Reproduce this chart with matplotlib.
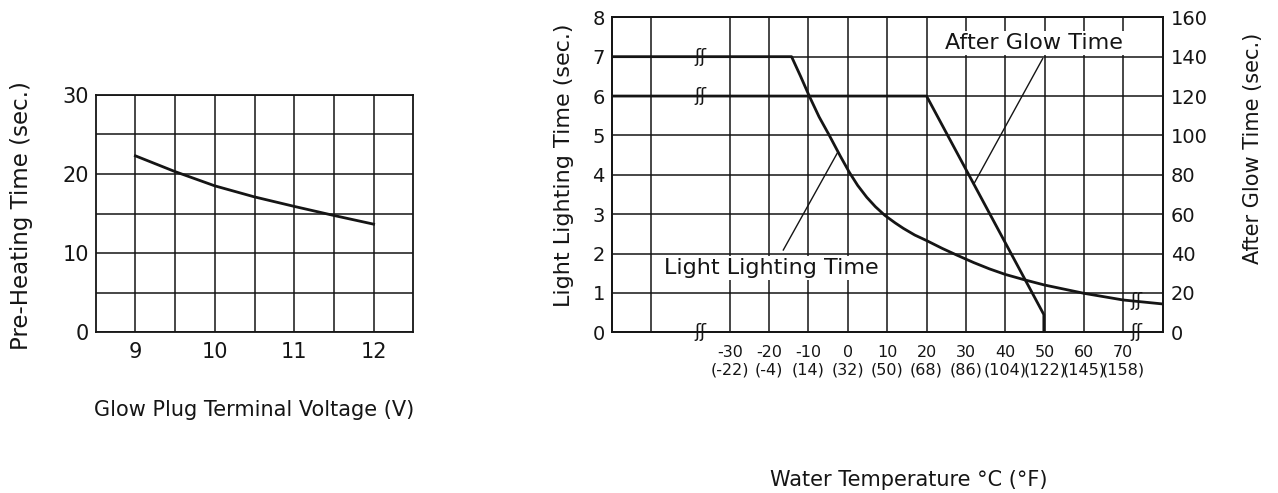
import numpy as np
import matplotlib
matplotlib.use('Agg')
import matplotlib.pyplot as plt

plt.rcParams['font.family'] = ['DejaVu Sans']

# ─── data ───
# pre-heating time vs. glow plug terminal voltage
volt = [9, 9.5, 10, 10.5, 11, 11.5, 12]
preheat_sec = [22.3, 20.3, 18.5, 17.1, 15.9, 14.75, 13.65]

# light lighting time (left axis, sec.) vs. water temperature (°C)
llt_temp = [-60, -14.3, -12, -9.8, -7.3, -4.7, -2, 0.4, 2.5, 4.8, 7, 9.4,
            12, 14.1, 17, 20, 24, 27.7, 32, 36, 40, 45, 50, 60, 70, 80]
llt_sec = [7, 7, 6.5, 6.0, 5.47, 5.0, 4.49, 4.06, 3.73, 3.43, 3.19, 2.97,
           2.78, 2.64, 2.47, 2.33, 2.13, 1.96, 1.77, 1.61, 1.47, 1.33,
           1.2, 0.99, 0.82, 0.72]

# after glow time (right axis, sec.)
agt_temp = [-60, 20, 49.8, 49.8]
agt_sec = [120, 120, 9, 0]

temp_c = [-30, -20, -10, 0, 10, 20, 30, 40, 50, 60, 70]
temp_f = ['-22', '-4', '14', '32', '50', '68', '86', '104', '122', '145', '158']

INK = '#151515'
W, H = 1278, 493

fig = plt.figure(figsize=(W / 100, H / 100), dpi=100)


def style_frame(a):
    for s in a.spines.values():
        s.set_color(INK)
        s.set_linewidth(1.3)


# ─── left chart ───
ax1 = fig.add_axes([95.7 / W, 1 - 332 / H, 317.6 / W, 237 / H])
ax1.plot(volt, preheat_sec, color=INK, lw=2.0, zorder=3)
ax1.set_xlim(8.5, 12.5)
ax1.set_ylim(0, 30)
ax1.set_xticks([9, 10, 11, 12])
ax1.set_xticks(np.arange(9, 12.01, 0.5), minor=True)
ax1.set_yticks([0, 10, 20, 30])
ax1.set_yticks([5, 15, 25], minor=True)
ax1.grid(which='both', color=INK, lw=1.1)
ax1.tick_params(which='both', length=0, labelsize=15, colors=INK)
ax1.tick_params(axis='x', pad=7)
ax1.tick_params(axis='y', pad=5)
style_frame(ax1)

fig.text(22 / W, 1 - 216 / H, 'Pre-Heating Time (sec.)', rotation=90,
         ha='center', va='center', fontsize=16.5, color=INK)
fig.text(254 / W, 1 - 410 / H, 'Glow Plug Terminal Voltage (V)',
         ha='center', va='center', fontsize=15, color=INK)

# ─── right chart ───
ax = fig.add_axes([611.7 / W, 1 - 332.3 / H, 551 / W, 315 / H])
ax.set_xlim(-60, 80)
ax.set_ylim(0, 8)
ax.set_xticks(temp_c)
ax.set_xticklabels([f'{c}\n({f})' for c, f in zip(temp_c, temp_f)],
                   fontsize=11.5, linespacing=1.2)
ax.set_xticks([-50], minor=True)
ax.set_yticks(range(9))
ax.grid(which='both', color=INK, lw=1.1)
ax.tick_params(which='both', length=0, colors=INK)
ax.tick_params(axis='y', labelsize=14, pad=5)
ax.tick_params(axis='x', pad=9)
ax.plot(llt_temp, llt_sec, color=INK, lw=2.0, zorder=3)
style_frame(ax)

ax2 = ax.twinx()
ax2.set_ylim(0, 160)
ax2.set_yticks(range(0, 161, 20))
ax2.tick_params(length=0, labelsize=14, pad=6, colors=INK)
ax2.plot(agt_temp, agt_sec, color=INK, lw=2.0, zorder=3)
style_frame(ax2)

# axis-break marks
brk = dict(ha='center', va='center', fontsize=13, color=INK, zorder=4)
for y in [7, 6, 0]:
    ax.text(-37.5, y, 'ʃʃ', **brk)
ax.text(73.4, np.interp(73.4, llt_temp, llt_sec), 'ʃʃ', **brk)
ax.text(73.4, 0, 'ʃʃ', **brk)

# curve labels with leader lines
box = dict(fc='white', ec='none', pad=1.5)
ax.text(-19.4, 1.63, 'Light Lighting Time', fontsize=16, ha='center',
        va='center', color=INK, bbox=box, zorder=3.5)
ax.plot([-16.4, -2.5], [2.09, np.interp(-2.5, llt_temp, llt_sec)],
        color=INK, lw=1.0, zorder=3)
ax.text(47.2, 7.34, 'After Glow Time', fontsize=16, ha='center',
        va='center', color=INK, bbox=box, zorder=3.5)
ax2.plot([32, 49.5], [np.interp(32, agt_temp[1:3], agt_sec[1:3]), 139],
         color=INK, lw=1.0, zorder=3)

fig.text(564 / W, 1 - 165 / H, 'Light Lighting Time (sec.)', rotation=90,
         ha='center', va='center', fontsize=16, color=INK)
fig.text(1253 / W, 1 - 148 / H, 'After Glow Time (sec.)', rotation=90,
         ha='center', va='center', fontsize=15, color=INK)
fig.text(909 / W, 1 - 480 / H, 'Water Temperature °C (°F)',
         ha='center', va='center', fontsize=15, color=INK)

fig.savefig('out.png', dpi=100, facecolor='white')
